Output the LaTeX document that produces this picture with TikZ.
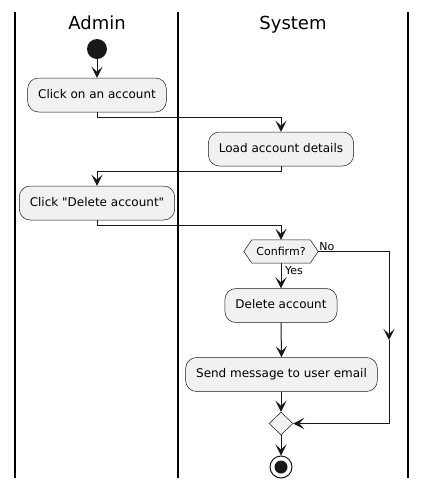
\documentclass[tikz,border=0pt]{standalone}
\usepackage{fontspec}
\setmainfont{DejaVu Sans}
\newfontfamily\qfont{DejaVu Sans}
\usetikzlibrary{arrows.meta,shapes.geometric,backgrounds}
\definecolor{ln}{HTML}{181818}
\definecolor{bx}{HTML}{F1F1F1}
\begin{document}
\begin{tikzpicture}[x=1pt,y=-1pt,
  act/.style={draw=ln, line width=0.5pt, fill=bx, rounded corners=11pt,
    minimum height=34pt, inner xsep=10.5pt, text height=9pt, text depth=2.5pt,
    font=\fontsize{12}{14}\selectfont\qfont},
  flow/.style={draw=ln, line width=1pt, -{Stealth[length=11pt,width=11pt,inset=5pt]}},
  lane/.style={draw=black, line width=1.5pt},
  lanetitle/.style={anchor=base, font=\fontsize{18}{21}\selectfont},
  lbl/.style={font=\fontsize{11}{13}\selectfont, inner sep=1pt}]
\useasboundingbox (0,0) rectangle (426,488);

% swimlanes
\draw[lane] (15,12) -- (15,478);
\draw[lane] (178,12) -- (178,478);
\draw[lane] (408,12) -- (408,478);
\node[lanetitle] (tAdmin) at (97,29.5) {Admin};
\node[lanetitle] (tSystem) at (293,29.5) {System};

% nodes
\node[circle, fill=ln, minimum size=20pt, inner sep=0pt] (start) at (97,49) {};
\node[act] (a1) at (97,95) {Click on an account};
\node[act] (a2) at (281,149) {Load account details};
\node[act] (a3) at (97,203) {Click "Delete account"};
\node[minimum width=74pt, minimum height=23pt, inner sep=0pt,
      font=\fontsize{11}{13}\selectfont] (dec) at (281,251.5) {Confirm?};
\begin{scope}[on background layer]
  \fill[white] (0,0) rectangle (426,488);
  \filldraw[draw=ln, line width=0.5pt, fill=bx]
    (dec.west) -- ([xshift=8pt]dec.north west) -- ([xshift=-8pt]dec.north east)
    -- (dec.east) -- ([xshift=-8pt]dec.south east) -- ([xshift=8pt]dec.south west) -- cycle;
\end{scope}
\node[act] (a4) at (281,305.5) {Delete account};
\node[act] (a5) at (281.5,374.5) {Send message to user email};
\node[diamond, draw=ln, line width=0.5pt, fill=bx, minimum width=24pt,
      minimum height=23pt, inner sep=0pt] (merge) at (281,423.5) {};
\node[circle, draw=ln, line width=1pt, minimum size=22pt, inner sep=0pt] (end) at (281,467) {};
\fill[ln] (end.center) circle (6.5pt);

\coordinate (nomid) at (389,340);

% connectors
\draw[flow] (start) -- (a1);
\draw[flow] (a1.south) -- ++(0,5) -| (a2.north);
\draw[flow] (a2.south) -- ++(0,5) -| (a3.north);
\draw[flow] (a3.south) -- ++(0,5) -| (dec.north);
\draw[flow] (dec.south) -- (a4.north);
\draw[flow] (a4.south) -- (a5.north);
\draw[flow] (a5.south -| merge.north) -- (merge.north);
\draw[flow] (dec.east) -| (nomid);
\draw[flow] (nomid) |- (merge.east);
\draw[flow] (merge.south) -- (end.north);

% labels
\node[lbl, anchor=south west] (no) at (dec.east) {No};
\node[lbl, anchor=north west, inner sep=2pt] (yes) at ([xshift=2pt,yshift=-1pt]dec.south) {Yes};
\end{tikzpicture}
\end{document}
